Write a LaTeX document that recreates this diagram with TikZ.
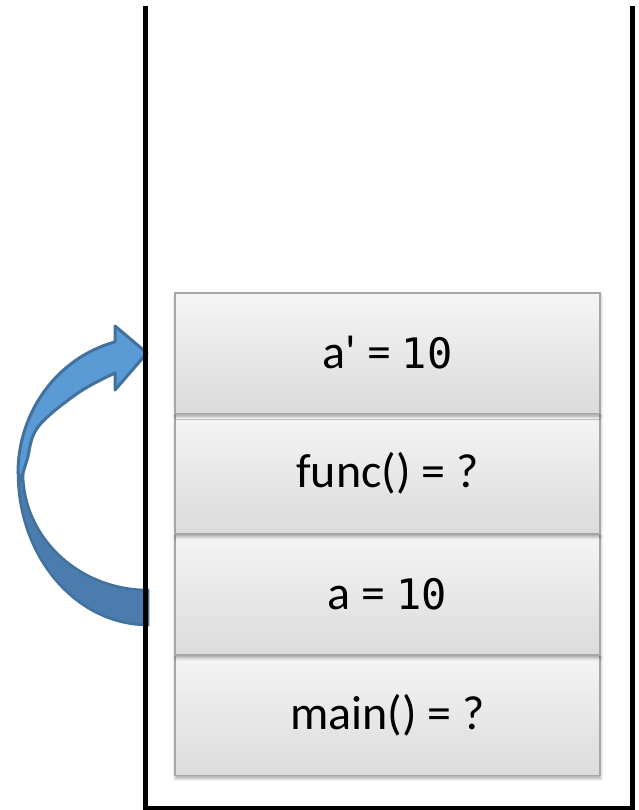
\documentclass[tikz,border=0pt]{standalone}
\usepackage{fontspec}
\setmainfont{Carlito}[Ligatures=TeXOff]
\newfontfamily\monof{DejaVu Sans Mono}
\usetikzlibrary{shadows.blur}
\definecolor{arrowlight}{HTML}{5B9BD5}
\definecolor{arrowdark}{HTML}{4A7DAE}
\definecolor{arrowline}{HTML}{41719C}
\definecolor{boxline}{HTML}{A6A6A6}
\begin{document}
\begin{tikzpicture}[x=1pt,y=-1pt,
  stackbox/.style={draw=boxline, line width=1.5pt, top color=black!4, bottom color=black!14,
    minimum width=425pt, minimum height=120.5pt, inner sep=0pt,
    blur shadow={shadow xshift=0.5pt, shadow yshift=-3pt, shadow blur radius=3pt, shadow opacity=35},
    font=\fontsize{48}{58}\selectfont},
  wall/.style={line width=5pt, line join=miter, draw=black},
  numtxt/.style={}]
\useasboundingbox (0,0) rectangle (638,810);
% curved arrow: back (dark) part
\filldraw[fill=arrowdark, draw=arrowline, line width=2.5pt]
  (148,625) arc[start angle=90,end angle=180,x radius=130,y radius=152]
  -- (23,473) arc[start angle=180,end angle=90,x radius=125,y radius=117] -- cycle;
% curved arrow: front (light) part with head
\filldraw[fill=arrowlight, draw=arrowline, line width=3pt, line join=round]
  (18,473) arc[start angle=180,end angle=255.3,x radius=130,y radius=135.5]
  -- (115,326) -- (147,353) -- (115,390) -- (115,373)
  -- plot[smooth, tension=0.6] coordinates {(115,373) (78,393) (38,427) (27,460) (21,480)} -- cycle;
% stack container
\coordinate (tl) at (145.7,6);
\coordinate (bl) at (145.7,808);
\coordinate (br) at (632,808);
\coordinate (tr) at (632,6);
\draw[wall] (tl) -- (bl) -- (br) -- (tr);
% stack frames (bottom first so upper shadows fall on lower boxes)
\node[stackbox] (mainf) at (387.5,715) {main() = ?};
\node[stackbox] (avar) at (387.5,594.5) {a = {\monof\fontsize{42}{50}\selectfont 10}};
\node[stackbox] (funcf) at (387.5,473.5) {func() = ?};
\node[stackbox] (aprime) at (387.5,353) {a' = {\monof\fontsize{42}{50}\selectfont 10}};
\end{tikzpicture}
\end{document}
